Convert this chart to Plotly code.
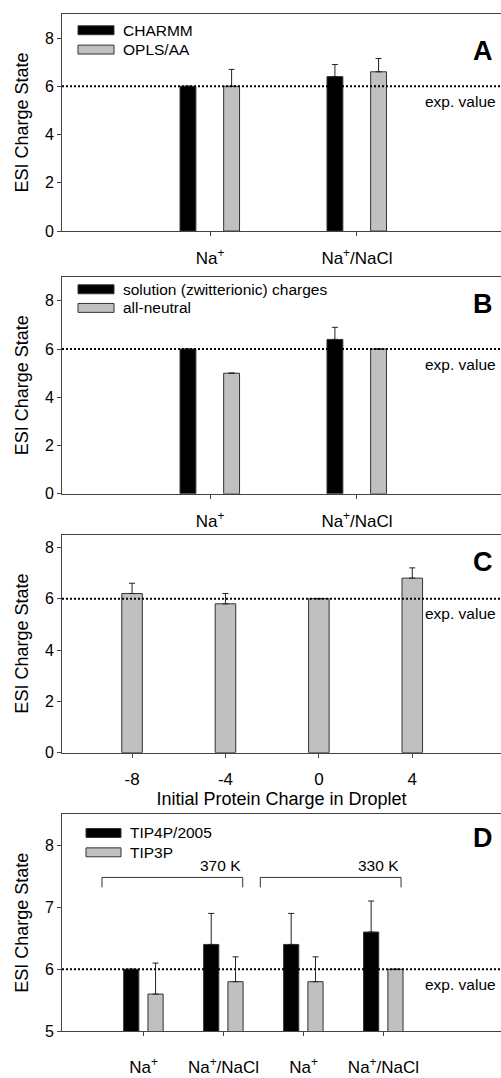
import plotly.graph_objects as go

# ---------------- data ----------------
salt_labels = ["Na<sup>+</sup>", "Na<sup>+</sup>/NaCl"]
salt_index = [0, 1]

A_charmm = [6.0, 6.4]
A_charmm_err = [None, 0.5]
A_opls = [6.0, 6.6]
A_opls_err = [0.7, 0.55]

B_solution = [6.0, 6.4]
B_solution_err = [None, 0.5]
B_neutral = [5.0, 6.0]
B_neutral_err = [None, None]

C_charges = [-8, -4, 0, 4]
C_tick_text = ["-8", "-4", "0", "4"]
C_values = [6.2, 5.8, 6.0, 6.8]
C_err = [0.4, 0.4, None, 0.4]

D_labels = ["Na<sup>+</sup>", "Na<sup>+</sup>/NaCl", "Na<sup>+</sup>", "Na<sup>+</sup>/NaCl"]
D_index = [0, 1, 2, 3]
D_tip4p = [6.0, 6.4, 6.4, 6.6]
D_tip4p_err = [None, 0.5, 0.5, 0.5]
D_tip3p = [5.6, 5.8, 5.8, 6.0]
D_tip3p_err = [0.5, 0.4, 0.4, None]

exp_value = 6

legend_A = ["CHARMM", "OPLS/AA"]
legend_B = ["solution (zwitterionic) charges", "all-neutral"]
legend_D = ["TIP4P/2005", "TIP3P"]
temps_D = ["370 K", "330 K"]

# ---------------- style ----------------
W, H = 501, 1078
FONT = "Liberation Sans, Arial, sans-serif"
BLACK = "#000000"
GRAY = "#c0c0c0"
EDGE = "#333333"
AXC = "#444444"


def px(x):
    return x / W


def py(y):
    return 1 - y / H


fig = go.Figure()

# panel pixel boxes (top, bottom)
panels = {
    "A": (14, 233),
    "B": (279, 498),
    "C": (539, 759),
    "D": (821, 1040),
}
ax_ids = {"A": "", "B": "2", "C": "3", "D": "4"}


def bar(x, y, err, color, offset, width, ax):
    fig.add_trace(go.Bar(
        x=x, y=y, width=width, offset=offset,
        marker=dict(color=color, line=dict(color=EDGE, width=1)),
        error_y=dict(type="data", array=err, arrayminus=[0] * len(err),
                     symmetric=False, color="#222222", thickness=1, width=3),
        xaxis="x" + ax, yaxis="y" + ax, showlegend=False,
    ))


bw = 0.108
bar(salt_index, A_charmm, A_charmm_err, BLACK, -0.150 - bw / 2, bw, "")
bar(salt_index, A_opls, A_opls_err, GRAY, 0.147 - bw / 2, bw, "")
bar(salt_index, B_solution, B_solution_err, BLACK, -0.150 - bw / 2, bw, "2")
bar(salt_index, B_neutral, B_neutral_err, GRAY, 0.147 - bw / 2, bw, "2")
cw = 0.88
bar(C_charges, C_values, C_err, GRAY, -cw / 2, cw, "3")
dw = 0.19
bar(D_index, D_tip4p, D_tip4p_err, BLACK, -0.154 - dw / 2, dw, "4")
bar(D_index, D_tip3p, D_tip3p_err, GRAY, 0.150 - dw / 2, dw, "4")

common_x = dict(showline=True, linecolor=AXC, linewidth=1, mirror=True,
                ticks="outside", ticklen=4, tickcolor=AXC, showgrid=False,
                zeroline=False, tickfont=dict(family=FONT, size=17, color="#000"))
common_y = dict(showline=True, linecolor=AXC, linewidth=1, mirror=False,
                ticks="outside", ticklen=4, tickcolor=AXC, showgrid=False,
                zeroline=False, tickfont=dict(family=FONT, size=16, color="#000"),
                title=dict(text="ESI Charge State", font=dict(family=FONT, size=18, color="#000"),
                           standoff=11))

layout = dict(
    width=W, height=H, margin=dict(l=0, r=0, t=0, b=0),
    plot_bgcolor="white", paper_bgcolor="white", barmode="overlay",
    font=dict(family=FONT, color="#000"),
    shapes=[], annotations=[],
)

xranges = {"A": [-1.007, 1.98], "B": [-1.007, 1.98], "C": [-11.0, 7.8], "D": [-1.02, 4.47]}
yranges = {"A": [0, 9], "B": [0, 9], "C": [0, 8.5], "D": [5, 8.5]}
for k, (t, b) in panels.items():
    a = ax_ids[k]
    xa = dict(common_x, domain=[px(62), 1], range=xranges[k], anchor="y" + a)
    ya = dict(common_y, domain=[py(b), py(t)], range=yranges[k], anchor="x" + a)
    if k in ("A", "B"):
        xa.update(tickvals=salt_index, ticktext=salt_labels, ticklabelstandoff=8)
        ya.update(tickvals=[0, 2, 4, 6, 8])
    elif k == "C":
        xa.update(tickvals=C_charges, ticktext=C_tick_text, ticklabelstandoff=7,
                  title=dict(text="Initial Protein Charge in Droplet",
                             font=dict(family=FONT, size=18, color="#000"), standoff=2))
        ya.update(tickvals=[0, 2, 4, 6, 8])
    else:
        xa.update(tickvals=D_index, ticktext=D_labels, ticklabelstandoff=16)
        ya.update(tickvals=[5, 6, 7, 8])
    layout["xaxis" + a] = xa
    layout["yaxis" + a] = ya

    # experimental reference line
    layout["shapes"].append(dict(type="line", xref="x%s domain" % a, yref="y" + a,
                                 x0=0, x1=1, y0=exp_value, y1=exp_value,
                                 line=dict(color="#000", width=2, dash="2px,2px")))
    layout["annotations"].append(dict(text="exp. value", xref="x%s domain" % a, yref="y" + a,
                                      x=1, y=exp_value, xanchor="right", yanchor="middle",
                                      xshift=-3, yshift=-15, showarrow=False,
                                      font=dict(family=FONT, size=15.5, color="#000")))

# panel letters
letter_pos = {"A": 51, "B": 307, "C": 567, "D": 845}
for k, yc in letter_pos.items():
    layout["annotations"].append(dict(text="<b>%s</b>" % k, xref="paper", yref="paper",
                                      x=px(495), y=py(yc), xanchor="right", yanchor="middle",
                                      showarrow=False,
                                      font=dict(family=FONT, size=27, color="#000")))


# legends (custom swatches)
def legend(items, x0, x1, ycs, xt):
    for (label, color), yc in zip(items, ycs):
        layout["shapes"].append(dict(type="rect", xref="paper", yref="paper",
                                     x0=px(x0), x1=px(x1), y0=py(yc + 4.5), y1=py(yc - 4.5),
                                     fillcolor=color, line=dict(color=EDGE, width=1)))
        layout["annotations"].append(dict(text=label, xref="paper", yref="paper",
                                          x=px(xt), y=py(yc), xanchor="left", yanchor="middle",
                                          showarrow=False,
                                          font=dict(family=FONT, size=15.5, color="#000")))


legend(list(zip(legend_A, [BLACK, GRAY])), 78, 114, [30.5, 50], 121)
legend(list(zip(legend_B, [BLACK, GRAY])), 78, 114, [291.7, 310.5], 121)
legend(list(zip(legend_D, [BLACK, GRAY])), 86, 121, [840, 859.5], 128)

# temperature brackets in D
brackets = [(-0.52, 1.24), (1.46, 3.22)]
for (xa0, xa1), label in zip(brackets, temps_D):
    layout["shapes"].append(dict(type="path", xref="x4", yref="y4",
                                 path="M %f,7.32 L %f,7.48 L %f,7.48 L %f,7.32" % (xa0, xa0, xa1, xa1),
                                 line=dict(color=EDGE, width=1)))
    layout["annotations"].append(dict(text=label, xref="x4", yref="y4", x=xa1, y=7.48,
                                      xanchor="right", yanchor="bottom", yshift=1, showarrow=False,
                                      font=dict(family=FONT, size=15.5, color="#000")))

fig.update_layout(**layout)
fig.write_html("out.html")
